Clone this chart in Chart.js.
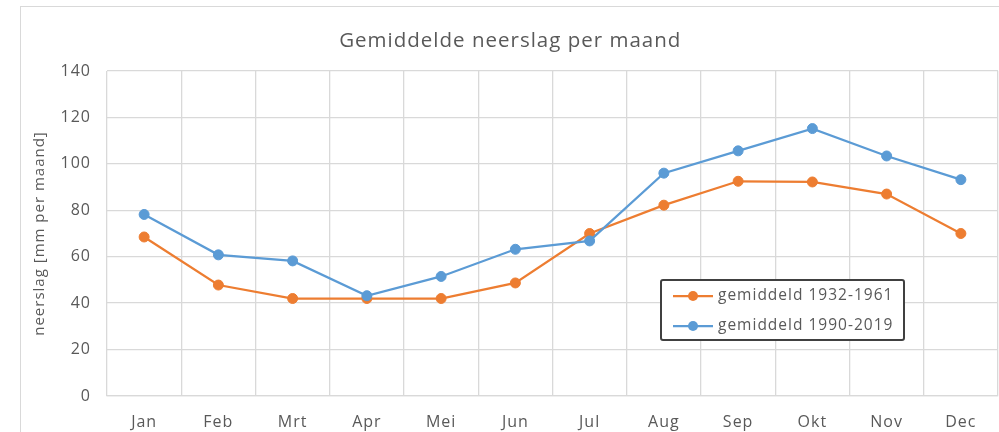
<!DOCTYPE html>
<html>
<head>
<meta charset="utf-8">
<script src="https://cdn.jsdelivr.net/npm/chart.js@4"></script>
<style>
  html, body { margin: 0; padding: 0; background: #fff; overflow: hidden; width: 999px; height: 432px; }
  #frame { position: absolute; left: 20px; top: 6px; width: 985px; height: 450px; border: 1px solid #d9d9d9; box-sizing: border-box; }
</style>
</head>
<body>
<div id="frame"><canvas id="chart"></canvas></div>
<script>
const months = ["Jan", "Feb", "Mrt", "Apr", "Mei", "Jun", "Jul", "Aug", "Sep", "Okt", "Nov", "Dec"]
const oud = [68.5, 47.8, 42, 42, 42, 48.7, 70, 82.2, 92.5, 92.2, 87, 70]
const nieuw = [78.2, 60.8, 58.2, 43.2, 51.5, 63.2, 66.8, 96, 105.6, 115.2, 103.4, 93.2]
const labelOud = "gemiddeld 1932-1961"
const labelNieuw = "gemiddeld 1990-2019"

const FONT = "'Open Sans', sans-serif"
const GREY = "#595959"

// the original text is quite wide, a bit of letter spacing gets it closer
const spacing = {
  id: "spacing",
  beforeUpdate(chart) { chart.ctx.letterSpacing = "1px" },
  beforeDraw(chart) { chart.ctx.letterSpacing = "1px" }
}

// legend box drawn inside the plot, like the spreadsheet original
const boxLegend = {
  id: "boxLegend",
  afterDraw(chart) {
    const ctx = chart.ctx
    const area = chart.chartArea
    const x = area.left + 554, y = area.top + 209, w = 243, h = 60
    ctx.save()
    ctx.fillStyle = "#fff"
    ctx.fillRect(x, y, w, h)
    ctx.strokeStyle = "#404040"
    ctx.lineWidth = 2
    ctx.beginPath()
    ctx.roundRect(x, y, w, h, 2)
    ctx.stroke()
    const entries = [0, 1].map(i => chart.data.datasets[i])
    entries.forEach((ds, i) => {
      const ry = y + 16 + i * 30
      ctx.strokeStyle = ds.borderColor
      ctx.lineWidth = 2.25
      ctx.beginPath()
      ctx.moveTo(x + 12, ry)
      ctx.lineTo(x + 52, ry)
      ctx.stroke()
      ctx.fillStyle = ds.borderColor
      ctx.beginPath()
      ctx.arc(x + 32, ry, 5, 0, Math.PI * 2)
      ctx.fill()
      ctx.fillStyle = GREY
      ctx.font = "15.5px " + FONT
      ctx.textBaseline = "middle"
      ctx.fillText(ds.label, x + 57, ry)
    })
    ctx.restore()
  }
}

new Chart(document.getElementById("chart"), {
  type: "line",
  data: {
    labels: months,
    datasets: [
      {
        label: labelOud,
        data: oud,
        borderColor: "#ED7D31",
        backgroundColor: "#ED7D31",
        borderWidth: 2.25,
        pointRadius: 5,
        pointBorderWidth: 1,
        order: 1
      },
      {
        label: labelNieuw,
        data: nieuw,
        borderColor: "#5B9BD5",
        backgroundColor: "#5B9BD5",
        borderWidth: 2.25,
        pointRadius: 5,
        pointBorderWidth: 1,
        order: 0
      }
    ]
  },
  options: {
    responsive: true,
    maintainAspectRatio: false,
    animation: false,
    layout: { padding: { left: 0, right: 4.5, top: 0, bottom: 0 } },
    plugins: {
      legend: { display: false },
      tooltip: { enabled: false },
      title: {
        display: true,
        text: "Gemiddelde neerslag per maand",
        color: GREY,
        font: { family: FONT, size: 20.5, weight: "normal" },
        padding: { top: 22.3, bottom: 17.1 }
      }
    },
    scales: {
      x: {
        offset: true,
        grid: { color: "#d9d9d9", lineWidth: 1.3, drawTicks: false, offset: true },
        border: { color: "#d9d9d9", width: 1.3 },
        ticks: { color: GREY, font: { family: FONT, size: 16 }, padding: 17, maxRotation: 0 },
        afterFit(s) { s.height = 59 }
      },
      y: {
        min: 0,
        max: 140,
        grid: { color: "#d9d9d9", lineWidth: 1.3, drawTicks: false },
        border: { display: false },
        ticks: { stepSize: 20, color: GREY, font: { family: FONT, size: 16 }, padding: 16 },
        title: {
          display: true,
          text: "neerslag [mm per maand]",
          color: GREY,
          font: { family: FONT, size: 15 },
          padding: { top: 10, bottom: 0 }
        },
        afterFit(s) { s.width = 86 }
      }
    }
  },
  plugins: [spacing, boxLegend]
})
</script>
</body>
</html>
